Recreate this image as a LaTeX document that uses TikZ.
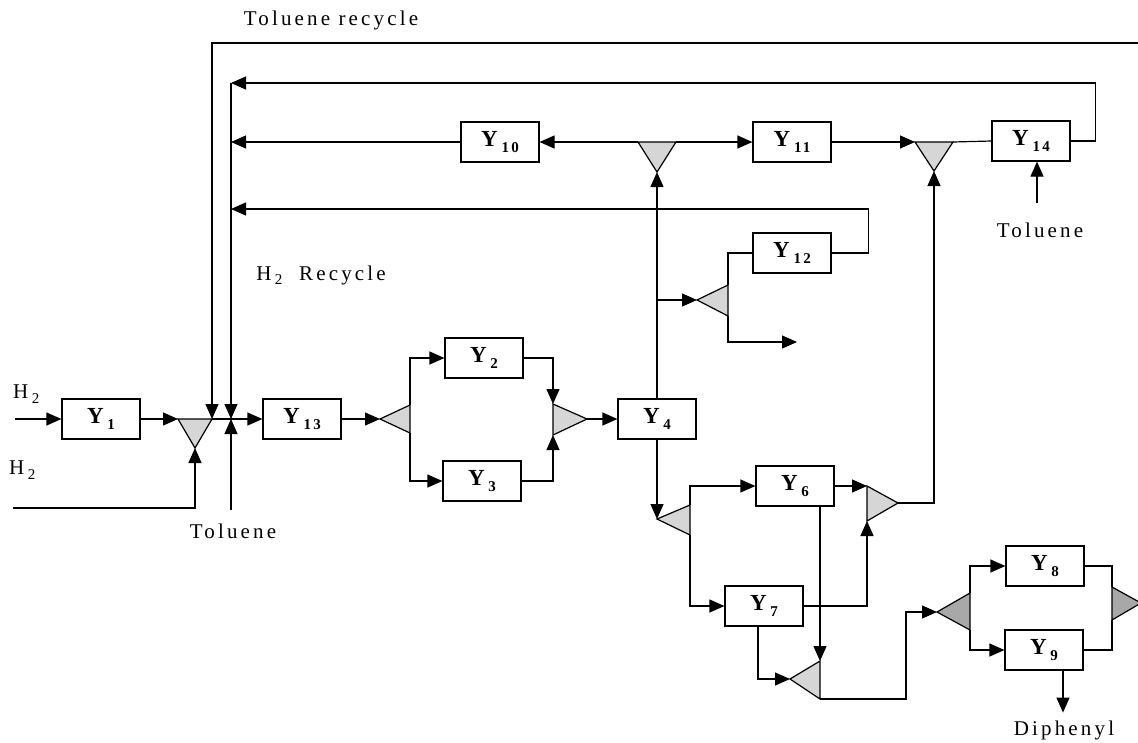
\documentclass[tikz,border=0pt]{standalone}
\usepackage{fontspec}
\setmainfont{Liberation Serif}
\newfontfamily\spacedserif{Liberation Serif}[LetterSpace=15]
\usetikzlibrary{arrows.meta,calc}
\definecolor{triFill}{RGB}{214,214,214}
\definecolor{triDark}{RGB}{168,168,168}
\newcommand{\yu}[1]{Y\,\raisebox{-0.55ex}{\fontsize{15}{17}\selectfont #1}}
\newcommand{\hsub}{H\,\raisebox{-0.45ex}{\fontsize{15}{17}\selectfont 2}}

\begin{document}
\begin{tikzpicture}[x=1pt,y=-1pt,
  flow/.style={draw=black,line width=1.2pt},
  arr/.style={flow,-{Triangle[length=15pt,width=13pt]}},
  unit/.style={draw=black,line width=1.2pt,fill=white,minimum width=78pt,minimum height=40pt,inner sep=0pt,font=\spacedserif\fontsize{23}{26}\selectfont\bfseries},
  tri/.style={fill=triFill,draw=black,line width=1.2pt},
  tridark/.style={fill=triDark,draw=black,line width=1.2pt},
  lbl/.style={inner sep=0pt,font=\spacedserif\fontsize{21}{24}\selectfont}]
\path[use as bounding box] (0,0) rectangle (1138,742);

% units
\node[unit] (Y1) at (101,419) {\yu{1}};
\node[unit] (Y13) at (302,419) {\yu{13}};
\node[unit] (Y2) at (484,358) {\yu{2}};
\node[unit] (Y3) at (482,481) {\yu{3}};
\node[unit] (Y4) at (657,419) {\yu{4}};
\node[unit] (Y10) at (500,142) {\yu{10}};
\node[unit] (Y11) at (792,142) {\yu{11}};
\node[unit] (Y14) at (1031,141) {\yu{14}};
\node[unit] (Y12) at (792,253) {\yu{12}};
\node[unit] (Y6) at (795,486) {\yu{6}};
\node[unit] (Y7) at (764,606) {\yu{7}};
\node[unit] (Y8) at (1045,566) {\yu{8}};
\node[unit] (Y9) at (1044,650) {\yu{9}};

% mixers and splitters
\coordinate (mA1) at (178,419); \coordinate (mA2) at (212,419); \coordinate (mA3) at (195,448);
\coordinate (sB1) at (380,419); \coordinate (sB2) at (410,405); \coordinate (sB3) at (410,433);
\coordinate (mC1) at (553,404); \coordinate (mC2) at (553,435); \coordinate (mC3) at (587,419);
\coordinate (sD1) at (638,142); \coordinate (sD2) at (676,142); \coordinate (sD3) at (657,172);
\coordinate (mE1) at (915,142); \coordinate (mE2) at (953,142); \coordinate (mE3) at (934,171);
\coordinate (sF1) at (697,300); \coordinate (sF2) at (728,285); \coordinate (sF3) at (728,316);
\coordinate (sG1) at (657,519); \coordinate (sG2) at (690,505); \coordinate (sG3) at (690,535);
\coordinate (mH1) at (867,486); \coordinate (mH2) at (867,521); \coordinate (mH3) at (898,503);
\coordinate (mI1) at (790,679); \coordinate (mI2) at (820,661); \coordinate (mI3) at (820,699);
\coordinate (sJ1) at (937,612); \coordinate (sJ2) at (970,593); \coordinate (sJ3) at (970,630);
\coordinate (mK1) at (1112,587); \coordinate (mK2) at (1112,620); \coordinate (mK3) at (1141,603);

% stream ends
\coordinate (h2a) at (15,419);
\coordinate (h2b) at (13,508);
\coordinate (tolrec) at (1140,43);
\coordinate (hrec) at (231,83);
\coordinate (j1) at (231,419);
\coordinate (tol1) at (231,510);
\coordinate (tol2) at (1037,203);
\coordinate (brF) at (657,300);
\coordinate (purge) at (797,342);
\coordinate (r12) at (231,209);

\path[tri] (mA1) -- (mA2) -- (mA3) -- cycle;
\path[tri] (sB1) -- (sB2) -- (sB3) -- cycle;
\path[tri] (mC1) -- (mC2) -- (mC3) -- cycle;
\path[tri] (sD1) -- (sD2) -- (sD3) -- cycle;
\path[tri] (mE1) -- (mE2) -- (mE3) -- cycle;
\path[tri] (sF1) -- (sF2) -- (sF3) -- cycle;
\path[tri] (sG1) -- (sG2) -- (sG3) -- cycle;
\path[tri] (mH1) -- (mH2) -- (mH3) -- cycle;
\path[tri] (mI1) -- (mI2) -- (mI3) -- cycle;
\path[tridark] (sJ1) -- (sJ2) -- (sJ3) -- cycle;
\path[tridark] (mK1) -- (mK2) -- (mK3) -- cycle;

% feed section
\draw[arr] (h2a) -- (Y1.west);
\draw[arr] (Y1.east) -- (mA1);
\draw[arr] (h2b) -| (mA3);
\draw[arr] (tolrec) -| (mA2);
\draw[arr] (hrec) -- (j1);
\draw[arr] (tol1) -- (j1);
\draw[arr] (mA2) -- (Y13.west);
\draw[arr] (Y13.east) -- (sB1);
\draw[arr] (sB2) |- (Y2.west);
\draw[arr] (sB3) |- (Y3.west);
\draw[arr] (Y2.east) -| (mC1);
\draw[arr] (Y3.east) -| (mC2);
\draw[arr] (mC3) -- (Y4.west);

% recycle section
\draw[arr] (Y4.north) -- (sD3);
\draw[arr] (sD1) -- (Y10.east);
\draw[arr] (sD2) -- (Y11.west);
\draw[arr] (Y10.west) -- (Y10.west -| hrec);
\draw[arr] (Y11.east) -- (mE1);
\draw[flow] (mE2) -- (Y14.west);
\draw[arr] (Y14.east) -- ++(25,0) |- (hrec);
\draw[arr] (tol2) -- (tol2 |- Y14.south);
\draw[arr] (brF) -- (sF1);
\draw[flow] (sF2) |- (Y12.west);
\draw[arr] (sF3) |- (purge);
\draw[arr] (Y12.east) -- ++(37,0) |- (r12);

% product section
\draw[arr] (Y4.south) -- (sG1);
\draw[arr] (sG2) |- (Y6.west);
\draw[arr] (sG3) |- (Y7.west);
\draw[arr] (Y6.east) -- (mH1);
\draw[arr] (Y7.east) -| (mH2);
\draw[arr] (mH3) -| (mE3);
\draw[arr] (mI2 |- Y6.south) -- (mI2);
\draw[arr] ([xshift=-6pt]Y7.south) |- (mI1);
\draw[arr] (mI3) -- ++(86,0) |- (sJ1);
\draw[arr] (sJ2) |- (Y8.west);
\draw[arr] (sJ3) |- (Y9.west);
\draw[flow] (Y8.east) -| (mK1);
\draw[flow] (Y9.east) -| (mK2);
\draw[arr] ([xshift=19pt]Y9.south) -- ++(0,42);

% labels
\node[lbl] (tolrecL) at (331,20) {Toluene recycle};
\node[lbl] (h2recL) at (321,275) {\hsub\ \ Recycle};
\node[lbl,anchor=west] (h2aL) at (13,394) {\hsub};
\node[lbl,anchor=west] (h2bL) at (9,470) {\hsub};
\node[lbl] (tol1L) at (233,531) {Toluene};
\node[lbl] (tol2L) at (1040,230) {Toluene};
\node[lbl] (dipL) at (1064,730) {Diphenyl};
\end{tikzpicture}
\end{document}
